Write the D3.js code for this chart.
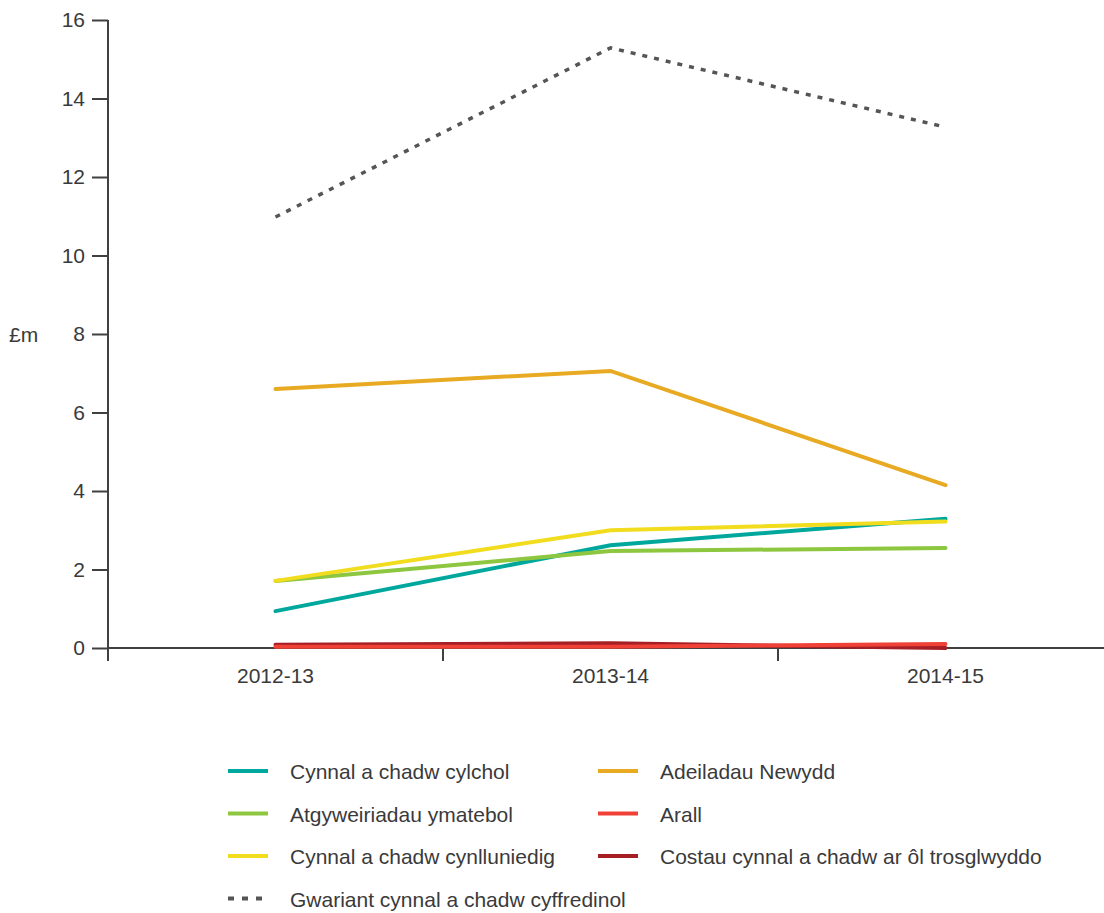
<!DOCTYPE html>
<meta charset="utf-8">
<style>
body { margin: 0; background: #fff; }
.chart text { font-family: "Liberation Sans", Arial, sans-serif; fill: #3a3a3a; font-size: 21px; }
.axis path, .axis line { stroke: #404040; stroke-width: 2; }
</style>
<svg class="chart" width="1104" height="913"></svg>
<script src="https://cdn.jsdelivr.net/npm/d3@7"></script>
<script>

let years = ["2012-13", "2013-14", "2014-15"];
let yTicks = [0, 2, 4, 6, 8, 10, 12, 14, 16];

let cylchol = [0.94, 2.62, 3.29];
let ymatebol = [1.71, 2.47, 2.55];
let cynlluniedig = [1.71, 3.0, 3.22];
let newydd = [6.6, 7.06, 4.15];
let arall = [0.03, 0.03, 0.1];
let costau = [0.08, 0.12, 0.0];
let gwariant = [10.98, 15.29, 13.27];

let series = [
  {name: "Cynnal a chadw cylchol", values: cylchol, color: "#00a79d"},
  {name: "Adeiladau Newydd", values: newydd, color: "#e8aa22"},
  {name: "Atgyweiriadau ymatebol", values: ymatebol, color: "#8dc63f"},
  {name: "Cynnal a chadw cynlluniedig", values: cynlluniedig, color: "#f1dc1e"},
  {name: "Costau cynnal a chadw ar ôl trosglwyddo", values: costau, color: "#a61f24"},
  {name: "Arall", values: arall, color: "#ef4136"},
  {name: "Gwariant cynnal a chadw cyffredinol", values: gwariant, color: "#555", dash: true}
];

let legendOrder = [
  "Cynnal a chadw cylchol", "Adeiladau Newydd",
  "Atgyweiriadau ymatebol", "Arall",
  "Cynnal a chadw cynlluniedig", "Costau cynnal a chadw ar ôl trosglwyddo",
  "Gwariant cynnal a chadw cyffredinol"
];

let chart = d3.select(".chart");

let x = d3.scaleBand().domain(years).range([108, 1113]);
let y = d3.scaleLinear().domain([0, 16]).range([648, 20]);

// y axis
chart.append("g")
    .attr("class", "axis")
    .attr("transform", "translate(108,0)")
    .call(d3.axisLeft(y).tickValues(yTicks).tickSize(16).tickSizeOuter(0).tickPadding(7))
    .call(g => g.attr("font-size", null).attr("font-family", null))
    .call(g => g.select(".domain").attr("d", "M0,20V661"));

// x axis
let xa = chart.append("g")
    .attr("class", "axis")
    .attr("transform", "translate(0,648)");
xa.append("path").attr("d", "M108,0H1104").attr("fill", "none");
xa.selectAll("line.tk")
    .data(years.slice(1))
  .enter().append("line")
    .attr("x1", d => x(d)).attr("x2", d => x(d))
    .attr("y1", 0).attr("y2", 13);
xa.selectAll("text")
    .data(years)
  .enter().append("text")
    .attr("x", d => x(d) + x.bandwidth() / 2)
    .attr("y", 35)
    .attr("text-anchor", "middle")
    .text(d => d);

chart.append("text")
    .attr("x", 9).attr("y", 342)
    .text("£m");

let line = d3.line()
    .x((d, i) => x(years[i]) + x.bandwidth() / 2)
    .y(d => y(d));

chart.selectAll("path.series")
    .data(series)
  .enter().append("path")
    .attr("class", "series")
    .attr("fill", "none")
    .attr("stroke", d => d.color)
    .attr("stroke-width", d => d.dash ? 3.5 : 4)
    .attr("stroke-dasharray", d => d.dash ? "5,7" : null)
    .attr("stroke-linecap", d => d.dash ? "butt" : "round")
    .attr("d", d => line(d.values));

// legend
let lg = chart.selectAll("g.leg")
    .data(legendOrder.map(n => series.find(s => s.name === n)))
  .enter().append("g")
    .attr("class", "leg")
    .attr("transform", (d, i) => "translate(" + (i % 2 ? 598 : 228) + "," + (771 + Math.floor(i / 2) * 42.5) + ")");

lg.append("line")
    .attr("x1", 0).attr("x2", 40)
    .attr("stroke", d => d.color)
    .attr("stroke-width", 4)
    .attr("stroke-dasharray", d => d.dash ? "6,8" : null);

lg.append("text")
    .attr("x", 62).attr("y", 8)
    .text(d => d.name);

</script>
